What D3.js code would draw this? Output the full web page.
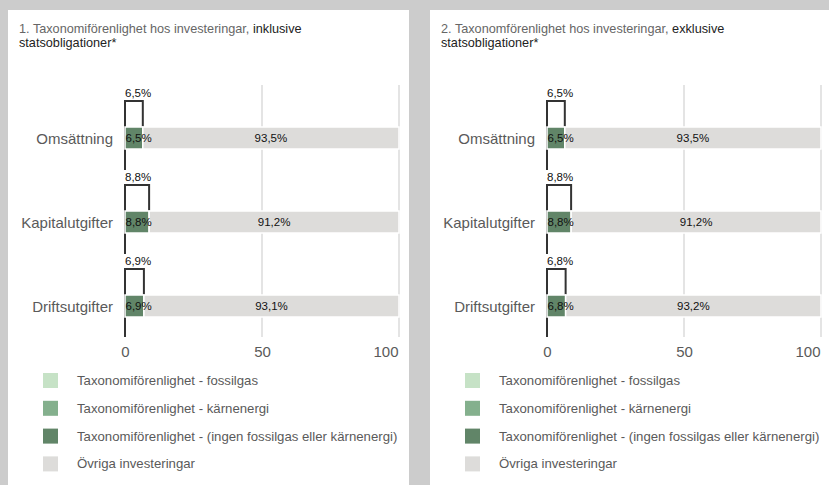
<!DOCTYPE html>
<html>
<head>
<meta charset="utf-8">
<script src="https://cdn.jsdelivr.net/npm/d3@7"></script>
<style>
  html, body { margin: 0; padding: 0; background: #cccccc; }
  svg { display: block; font-family: "Liberation Sans", Arial, sans-serif; }
</style>
</head>
<body>
<svg id="chart" width="829" height="485"></svg>
<script>
// data
const categories = ['Omsättning', 'Kapitalutgifter', 'Driftsutgifter'];
const seriesNames = [
  'Taxonomiförenlighet - fossilgas',
  'Taxonomiförenlighet - kärnenergi',
  'Taxonomiförenlighet - (ingen fossilgas eller kärnenergi)',
  'Övriga investeringar'
];
const seriesColors = ['#c6e2c6', '#84b08d', '#618568', '#dddcda'];
const xTicks = [0, 50, 100];

// panel 1, inklusive statsobligationer
const inclFossilgas = [0, 0, 0];
const inclKarnenergi = [0, 0, 0];
const inclOvrigTaxonomi = [6.5, 8.8, 6.9];
const inclOvriga = [93.5, 91.2, 93.1];

// panel 2, exklusive statsobligationer
const exclFossilgas = [0, 0, 0];
const exclKarnenergi = [0, 0, 0];
const exclOvrigTaxonomi = [6.5, 8.8, 6.8];
const exclOvriga = [93.5, 91.2, 93.2];

const sv = d3.formatLocale({decimal: ',', thousands: ' ', grouping: [3], currency: ['', ' kr']});
const pct = v => sv.format('.1f')(v) + '%';

const svg = d3.select('#chart');

function drawPanel(px, titleGray, titleDark, titleLine2, cols) {
  const panel = svg.append('g').attr('transform', `translate(${px},10)`);
  panel.append('rect')
    .attr('width', 401).attr('height', 480)
    .attr('fill', '#fff');

  // TITLE
  const title = panel.append('text')
    .attr('x', 11).attr('y', 22.5)
    .style('font-size', '12.7px');
  title.append('tspan').attr('fill', '#666').text(titleGray);
  title.append('tspan').attr('fill', '#222').text(titleDark);
  panel.append('text')
    .attr('x', 11).attr('y', 37)
    .style('font-size', '12.7px')
    .attr('fill', '#222')
    .text(titleLine2);

  // rows for the stack
  const keys = seriesNames;
  const rows = categories.map((c, i) => {
    const r = {category: c};
    keys.forEach((k, j) => { r[k] = cols[j][i]; });
    return r;
  });
  const stacked = d3.stack().keys(keys)(rows);

  const x = d3.scaleLinear().domain([0, 100]).range([117, 391]);
  const y = d3.scaleBand().domain(categories).range([75, 327]);

  const g = panel.append('g');

  // GUIDELINES
  g.selectAll('.grid')
    .data(xTicks.filter(t => t !== 0))
    .enter().append('line')
    .attr('x1', d => x(d)).attr('x2', d => x(d))
    .attr('y1', y.range()[0]).attr('y2', y.range()[1])
    .attr('stroke', '#e4e4e4').attr('stroke-width', 2);

  // ZERO LINE
  g.append('line')
    .attr('x1', x(0)).attr('x2', x(0))
    .attr('y1', y(categories[0]) + 16).attr('y2', y.range()[1])
    .attr('stroke', '#333').attr('stroke-width', 2);

  // TOTAL TAXONOMY BOX + LABEL
  const total = rows.map(r => r[keys[0]] + r[keys[1]] + r[keys[2]]);
  const top = g.selectAll('.total')
    .data(categories)
    .enter().append('g')
    .attr('class', 'total')
    .attr('transform', d => `translate(0,${y(d)})`);

  top.append('rect')
    .attr('x', x(0) - 1).attr('y', 1)
    .attr('width', 34).attr('height', 14)
    .attr('fill', '#fff');

  top.append('text')
    .attr('x', x(0)).attr('y', 12)
    .style('font-size', '11.5px')
    .attr('fill', '#111')
    .text((d, i) => pct(total[i]));

  top.append('path')
    .attr('d', (d, i) => `M${x(0)},42V16H${x(total[i])}V42`)
    .attr('fill', 'none')
    .attr('stroke', '#333').attr('stroke-width', 2);

  // BARS
  const layer = g.selectAll('.layer')
    .data(stacked)
    .enter().append('g')
    .attr('class', 'layer')
    .attr('fill', (d, i) => seriesColors[i]);

  layer.selectAll('rect')
    .data(d => d.filter(s => s[1] - s[0] > 0))
    .enter().append('rect')
    .attr('x', d => x(d[0]))
    .attr('y', d => y(d.data.category) + 42)
    .attr('width', d => x(d[1]) - x(d[0]))
    .attr('height', 22)
    .attr('stroke', '#fff').attr('stroke-width', 1.5);

  // BAR LABELS (drawn after every bar so nothing covers them)
  const labels = g.append('g');
  labels.selectAll('.lab-green')
    .data(stacked[2].filter(s => s[1] - s[0] > 0))
    .enter().append('text')
    .attr('x', d => x(d[0]) + 0.5)
    .attr('y', d => y(d.data.category) + 57)
    .style('font-size', '11.5px')
    .attr('fill', '#111')
    .text(d => pct(d[1] - d[0]));

  labels.selectAll('.lab-rest')
    .data(stacked[3].filter(s => s[1] - s[0] > 0))
    .enter().append('text')
    .attr('x', d => (x(d[0]) + x(d[1])) / 2)
    .attr('y', d => y(d.data.category) + 57)
    .attr('text-anchor', 'middle')
    .style('font-size', '11.5px')
    .attr('fill', '#111')
    .text(d => pct(d[1] - d[0]));

  // CATEGORY LABELS
  g.selectAll('.cat')
    .data(categories)
    .enter().append('text')
    .attr('x', x(0) - 12)
    .attr('y', d => y(d) + 58.5)
    .attr('text-anchor', 'end')
    .style('font-size', '15px')
    .attr('fill', '#5a5a5a')
    .text(d => d);

  // X AXIS
  const xAxis = d3.axisBottom(x).tickValues(xTicks).tickSize(0).tickPadding(0);
  const ax = g.append('g')
    .attr('transform', `translate(0,${y.range()[1] + 20})`)
    .call(xAxis);
  ax.select('.domain').remove();
  ax.selectAll('text')
    .attr('dy', 0)
    .style('font-size', '15px')
    .style('font-family', '"Liberation Sans", Arial, sans-serif')
    .attr('fill', '#5a5a5a')
    .attr('text-anchor', (d, i) => i === xTicks.length - 1 ? 'end' : 'middle')
    .attr('x', (d, i) => i === xTicks.length - 1 ? -1 : 0);

  // LEGEND
  const legend = panel.selectAll('.legend')
    .data(seriesNames)
    .enter().append('g')
    .attr('class', 'legend')
    .attr('transform', (d, i) => `translate(35,${363 + i * 27.8})`);

  legend.append('rect')
    .attr('width', 15).attr('height', 15)
    .attr('fill', (d, i) => seriesColors[i]);

  legend.append('text')
    .attr('x', 34).attr('y', 12)
    .style('font-size', '13.2px')
    .attr('fill', '#5a5a5a')
    .text(d => d);
}

drawPanel(8, '1. Taxonomiförenlighet hos investeringar, ', 'inklusive', 'statsobligationer*',
  [inclFossilgas, inclKarnenergi, inclOvrigTaxonomi, inclOvriga]);
drawPanel(430, '2. Taxonomförenlighet hos investeringar, ', 'exklusive', 'statsobligationer*',
  [exclFossilgas, exclKarnenergi, exclOvrigTaxonomi, exclOvriga]);
</script>
</body>
</html>
